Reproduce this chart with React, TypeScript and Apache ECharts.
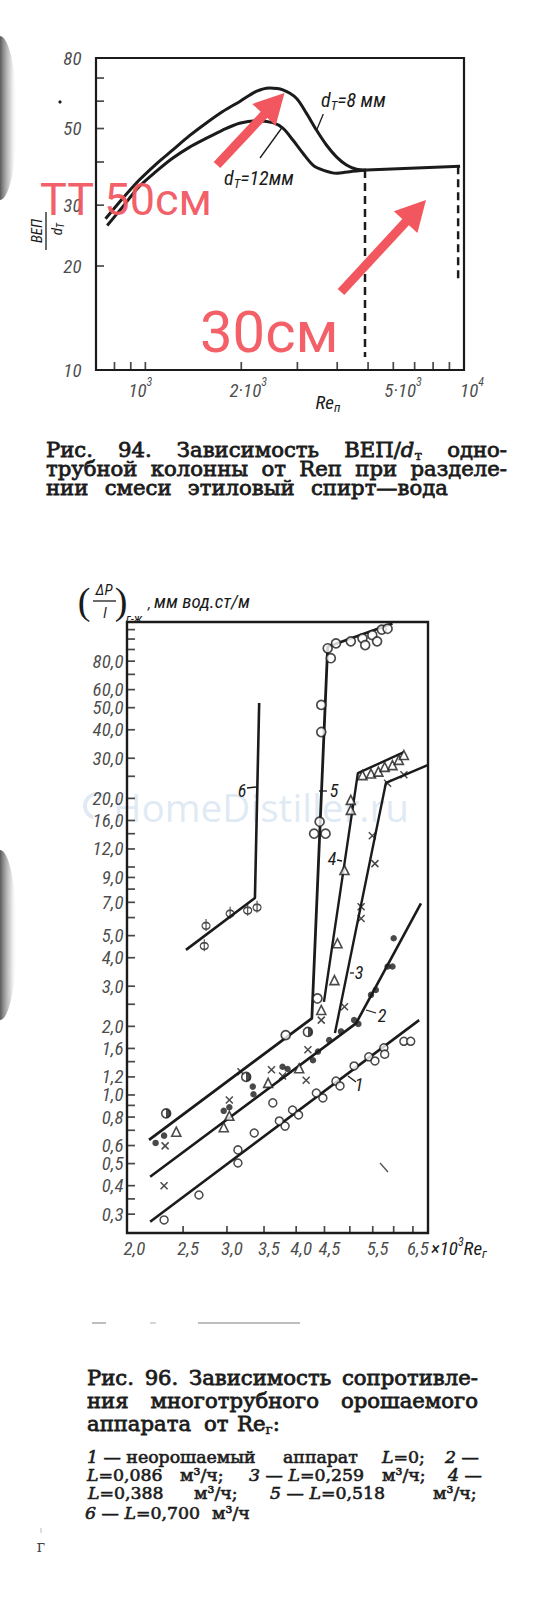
import React, { useEffect, useRef } from 'react';
import * as echarts from 'echarts';

// ---------------- Fig. 94 : ВЕП/dт vs Reп ----------------
const d8Re = [750, 847, 955, 1079, 1217, 1373, 1550, 1749, 1974, 2228, 2453, 2701, 2978, 3201, 3443, 3700, 3978, 4277, 4599, 4945];
const d8Val = [27.4, 31.3, 35.4, 39.4, 43.3, 47.6, 51.8, 56.0, 59.8, 64.0, 65.5, 64.7, 61.2, 55.4, 49.5, 44.8, 41.4, 39.2, 38.1, 37.9];
const d12Re = [759, 847, 955, 1079, 1217, 1373, 1550, 1749, 1974, 2228, 2511, 2701, 2904, 3123, 3357, 3610, 3978, 4380, 4945];
const d12Val = [26.2, 29.6, 33.9, 37.5, 41.0, 44.1, 46.8, 49.5, 51.8, 52.7, 52.0, 50.1, 46.3, 42.4, 39.2, 37.9, 37.1, 37.5, 37.9];
const plateauRe = [4945, 9721];
const plateauVal = [37.9, 38.9];
const dashLeftRe = [4890, 4890];
const dashLeftVal = [37.9, 10.9];
const dashRightRe = [9585, 9585];
const dashRightVal = [38.9, 18.3];
const topYTickValues = [20, 30, 40, 50, 60, 70];
const topYLabelValues = [10, 20, 30, 50, 80];
const topXTickValues = [800, 900, 1000, 2000, 3000, 4000, 5000, 6000, 7000, 8000, 9000];
const topXLabelValues = [1000, 2000, 5000, 10000];
const topXLabelBase = ['10', '2·10', '5·10', '10'];
const topXLabelExp = ['3', '3', '3', '4'];

// ---------------- Fig. 96 : (ΔP/l) vs Reг ----------------
const curve1 = [[2.18, 0.278], [6.67, 2.13]];
const curve2 = [[2.18, 0.438], [5.13, 2.06], [6.72, 6.93]];
const curve3 = [[4.70, 1.87], [5.81, 23.4], [6.91, 28.0]];
const curve4 = [[4.49, 2.56], [5.17, 25.8], [6.26, 31.9]];
const curve5 = [[2.17, 0.635], [4.27, 2.17], [4.56, 92.5], [5.97, 117]];
const curve6 = [[2.53, 4.33], [3.37, 7.31], [3.43, 52.4]];

const pts1 = [[2.31, 0.283], [2.67, 0.364], [3.14, 0.574], [3.14, 0.503], [3.36, 0.681], [3.63, 0.923], [3.73, 0.769], [3.82, 0.73], [3.94, 0.859], [4.04, 0.817], [4.35, 1.02], [4.47, 0.97], [4.72, 1.15], [4.80, 1.095], [5.09, 1.34], [5.41, 1.47], [5.55, 1.41], [5.76, 1.61], [5.78, 1.51], [6.26, 1.72], [6.44, 1.72]];
const pts2 = [[2.23, 0.616], [2.31, 0.663], [2.96, 0.852], [3.03, 0.883], [3.34, 1.088], [3.35, 1.007], [3.78, 1.33], [3.86, 1.30], [4.29, 1.42], [4.38, 1.55], [4.59, 1.74], [4.82, 1.90], [5.09, 2.13], [5.18, 2.05], [5.46, 2.75], [5.57, 2.89], [5.85, 3.66], [5.97, 3.66], [6.00, 4.87]];
const pts3 = [[2.31, 0.40], [2.32, 0.598], [3.03, 0.95], [3.18, 1.265], [3.61, 1.29], [3.78, 1.21], [4.17, 1.16], [4.20, 1.58], [4.44, 2.13], [4.89, 2.44], [5.24, 5.95], [5.24, 6.70], [5.49, 13.7], [5.55, 10.35], [5.85, 23.3], [6.26, 25.4]];
const pts4 = [[2.43, 0.69], [2.96, 0.722], [3.03, 0.81], [3.56, 1.13], [4.05, 1.31], [4.44, 2.36], [4.69, 3.19], [4.75, 4.63], [4.89, 9.70], [5.02, 19.7], [5.02, 17.8], [5.27, 25.3], [5.46, 25.7], [5.63, 26.2], [5.78, 27.5], [5.97, 28.0], [6.13, 29.5], [6.26, 31.0]];
const pts5 = [[3.83, 1.83], [4.37, 2.65], [4.31, 14.0], [4.52, 14.0], [4.41, 15.8], [4.44, 39.1], [4.44, 51.4], [4.56, 91.1], [4.62, 82.4], [4.72, 95.7], [5.02, 97.7], [5.27, 100.7], [5.33, 94.1], [5.49, 104], [5.60, 97.7], [5.71, 110], [5.85, 111]];
const ptsHalf = [[2.33, 0.83], [3.25, 1.20], [4.20, 1.89]];
const pts6 = [[2.73, 4.54], [2.75, 5.57], [3.04, 6.30], [3.27, 6.5], [3.40, 6.7]];

const bottomYTickValues = [0.3, 0.35, 0.4, 0.5, 0.6, 0.7, 0.8, 0.9, 1, 1.2, 1.4, 1.6, 2, 2.5, 3, 4, 5, 6, 7, 8, 9, 10, 12, 14, 16, 20, 25, 30, 40, 50, 60, 70, 80, 90, 100, 110];
const bottomYLabelValues = [0.3, 0.4, 0.5, 0.6, 0.8, 1, 1.2, 1.6, 2, 3, 4, 5, 7, 9, 12, 16, 20, 30, 40, 50, 60, 80];
const bottomXTickValues = [2.5, 3, 3.5, 4, 4.5, 5, 5.5, 6, 6.5];
const bottomXLabelValues = [2, 2.5, 3, 3.5, 4, 4.5, 5.5, 6.5];

// ---------------- styling ----------------
const INK = '#1b1b1b';
const RED = '#f2575f';
const AXF = '"Liberation Sans Narrow", "Roboto Condensed", "DejaVu Sans Condensed", "Liberation Sans", sans-serif';
const SERIF = '"DejaVu Serif", "Liberation Serif", serif';

type Seg = [string, string];
type Styles = Record<string, any>;

function fontOf(st: any) {
  return `${st.fontStyle || 'normal'} ${st.fontWeight || 'normal'} ${st.fontSize}px ${st.fontFamily}`;
}
let _ctx: CanvasRenderingContext2D | null = null;
function measureSegs(segs: Seg[], styles: Styles) {
  if (!_ctx) _ctx = document.createElement('canvas').getContext('2d');
  let w = 0;
  for (const [t, k] of segs) {
    _ctx!.font = fontOf(styles[k]);
    w += _ctx!.measureText(t).width;
  }
  return w;
}
function richOf(segs: Seg[]) {
  return segs.map(([t, k]) => `{${k}|${t}}`).join('');
}
function richStyles(styles: Styles) {
  const r: Styles = {};
  Object.keys(styles).forEach((k) => (r[k] = { ...styles[k], fill: styles[k].fill || INK }));
  return r;
}
function textEl(x: number, y: number, segs: Seg[], styles: Styles, extra: any = {}) {
  return {
    type: 'text', x, y, silent: true, z: 20, rotation: extra.rotation || 0, scaleX: extra.scaleX || 1,
    style: { text: richOf(segs), rich: richStyles(styles), textAlign: extra.align || 'left', textVerticalAlign: 'middle', fill: INK },
  };
}
function justify(words: Seg[][], styles: Styles, left: number, right: number, y: number, scaleX = 1) {
  const ws = words.map((w) => measureSegs(w, styles) * scaleX);
  const total = ws.reduce((a, b) => a + b, 0);
  const gap = Math.max(6, (right - left - total) / (words.length - 1));
  let x = left;
  return words.map((w, i) => {
    const el = textEl(x, y, w, styles, { scaleX });
    x += ws[i] + gap;
    return el;
  });
}
function lineEl(x1: number, y1: number, x2: number, y2: number, w = 1.3, color = INK, z = 20) {
  return { type: 'line', silent: true, z, shape: { x1, y1, x2, y2 }, style: { stroke: color, lineWidth: w } };
}
function arrowEls(x1: number, y1: number, x2: number, y2: number) {
  const dx = x2 - x1, dy = y2 - y1, L = Math.hypot(dx, dy);
  const ux = dx / L, uy = dy / L, px = -uy, py = ux;
  const hl = 30, hw = 16;
  const bx = x2 - ux * hl, by = y2 - uy * hl;
  return [
    { type: 'line', silent: true, z: 60, shape: { x1, y1, x2: bx + ux * 3, y2: by + uy * 3 }, style: { stroke: RED, lineWidth: 9, lineCap: 'butt' } },
    { type: 'polygon', silent: true, z: 60, shape: { points: [[x2, y2], [bx + px * hw, by + py * hw], [bx - px * hw, by - py * hw]] }, style: { fill: RED } },
  ];
}

const CAP_SX = 1.06;
const LEG_SX = 1.02;
const capStyles: Styles = {
  n: { fontSize: 20, fontFamily: SERIF, lineHeight: 24, stroke: INK, lineWidth: 0.75 },
  i: { fontSize: 20, fontStyle: 'italic', fontFamily: SERIF, lineHeight: 24, stroke: INK, lineWidth: 0.75 },
  s: { fontSize: 13, fontFamily: SERIF, lineHeight: 17, verticalAlign: 'bottom', stroke: INK, lineWidth: 0.5 },
};
const legStyles: Styles = {
  n: { fontSize: 17, fontFamily: SERIF, stroke: INK, lineWidth: 0.6 },
  i: { fontSize: 17, fontStyle: 'italic', fontFamily: SERIF, stroke: INK, lineWidth: 0.6 },
};
const axStyles: Styles = {
  i: { fontSize: 19, fontStyle: 'italic', fontFamily: AXF, lineHeight: 24 },
  s: { fontSize: 13, fontStyle: 'italic', fontFamily: AXF, lineHeight: 16, verticalAlign: 'bottom' },
  p: { fontSize: 12, fontStyle: 'italic', fontFamily: AXF, lineHeight: 12, verticalAlign: 'top' },
  t: { fontSize: 15, fontStyle: 'italic', fontFamily: AXF },
};

function pairs(xs: number[], ys: number[]) {
  return xs.map((x, i) => [x, ys[i]]);
}

function buildOption() {
  const lineS = (gi: number, data: number[][], width: number, extra: any = {}) => ({
    type: 'line', xAxisIndex: gi, yAxisIndex: gi, data, symbol: 'none', silent: true, z: 2,
    lineStyle: { color: INK, width, ...(extra.lineStyle || {}) }, smooth: extra.smooth || false,
  });
  const ticksY = (gi: number, xAt: number, values: number[], len: number) => ({
    type: 'scatter', xAxisIndex: gi, yAxisIndex: gi, data: values.map((v) => [xAt, v]), symbol: 'rect',
    symbolSize: [len, 1.7], symbolOffset: [len / 2, 0], itemStyle: { color: INK }, clip: false, silent: true, z: 3,
  });
  const ticksX = (gi: number, yAt: number, values: number[], len: number) => ({
    type: 'scatter', xAxisIndex: gi, yAxisIndex: gi, data: values.map((v) => [v, yAt]), symbol: 'rect',
    symbolSize: [1.7, len], symbolOffset: [0, -len / 2], itemStyle: { color: INK }, clip: false, silent: true, z: 3,
  });
  const labelBase = { show: true, fontStyle: 'italic', fontFamily: AXF, color: INK };
  const topXShift = [-5, 7, 35, 8];
  const markers = (data: number[][], symbol: string, size: any, itemStyle: any) => ({
    type: 'scatter', xAxisIndex: 1, yAxisIndex: 1, data, symbol, symbolSize: size, itemStyle, silent: true, z: 5,
  });
  const halfFill = new echarts.graphic.LinearGradient(0, 0, 1, 0, [
    { offset: 0, color: '#fff' }, { offset: 0.5, color: '#fff' }, { offset: 0.5, color: INK }, { offset: 1, color: INK },
  ]);

  const series: any[] = [
    // top chart
    lineS(0, pairs(d8Re, d8Val), 3, { smooth: 0.3 }),
    lineS(0, pairs(d12Re, d12Val), 3, { smooth: 0.3 }),
    lineS(0, pairs(plateauRe, plateauVal), 3),
    lineS(0, pairs(dashLeftRe, dashLeftVal), 2.5, { lineStyle: { type: [8, 5] } }),
    lineS(0, pairs(dashRightRe, dashRightVal), 2.5, { lineStyle: { type: [8, 5] } }),
    ticksY(0, 700, topYTickValues, 8),
    ticksX(0, 10, topXTickValues, 8),
    {
      type: 'scatter', xAxisIndex: 0, yAxisIndex: 0, data: topYLabelValues.map((v) => [700, v]), symbolSize: 1,
      itemStyle: { color: 'transparent' }, clip: false, silent: true, z: 3,
      label: { ...labelBase, position: 'left', distance: 14, fontSize: 19, formatter: (p: any) => String(p.value[1]) },
    },
    {
      type: 'scatter', xAxisIndex: 0, yAxisIndex: 0, symbolSize: 1, itemStyle: { color: 'transparent' }, clip: false, silent: true, z: 3,
      data: topXLabelValues.map((v, i) => ({ value: [v, 10], label: { offset: [topXShift[i], 0] } })),
      label: {
        ...labelBase, position: 'bottom', distance: 5,
        formatter: (p: any) => `{m|${topXLabelBase[p.dataIndex]}}{p|${topXLabelExp[p.dataIndex]}}`,
        rich: {
          m: { fontSize: 19, fontStyle: 'italic', fontFamily: AXF, color: INK, lineHeight: 24, verticalAlign: 'bottom' },
          p: { fontSize: 12, fontStyle: 'italic', fontFamily: AXF, color: INK, lineHeight: 12, verticalAlign: 'top' },
        },
      },
    },
    // bottom chart curves
    lineS(1, curve1, 2.6),
    lineS(1, curve2, 2.6),
    lineS(1, curve3, 2.4),
    lineS(1, curve4, 2.4),
    lineS(1, curve5, 2.8),
    lineS(1, curve6, 2.6),
    markers(pts1, 'circle', 8, { color: '#fff', borderColor: INK, borderWidth: 1.5 }),
    markers(pts2, 'circle', 6.5, { color: INK }),
    markers(pts3, 'path://M0,0L10,10M10,0L0,10', 7, { color: 'transparent', borderColor: INK, borderWidth: 1.5 }),
    markers(pts4, 'triangle', 9, { color: '#fff', borderColor: INK, borderWidth: 1.6 }),
    markers(pts5, 'circle', 9, { color: '#fff', borderColor: INK, borderWidth: 1.7 }),
    markers(ptsHalf, 'circle', 9, { color: halfFill, borderColor: INK, borderWidth: 1.6 }),
    markers(pts6, 'path://M5,0L5,14M9,8A4,4,0,1,1,1,8A4,4,0,1,1,9,8Z', [8, 12], { color: 'transparent', borderColor: INK, borderWidth: 1.4 }),
    ticksY(1, 1.98, bottomYTickValues, 8),
    ticksX(1, 0.248, bottomXTickValues, 7),
    {
      type: 'scatter', xAxisIndex: 1, yAxisIndex: 1, data: bottomYLabelValues.map((v) => [1.98, v]), symbolSize: 1,
      itemStyle: { color: 'transparent' }, clip: false, silent: true, z: 3,
      label: { ...labelBase, position: 'left', distance: 3, fontSize: 19, formatter: (p: any) => p.value[1].toFixed(1).replace('.', ',') },
    },
    {
      type: 'scatter', xAxisIndex: 1, yAxisIndex: 1, data: bottomXLabelValues.map((v) => [v, 0.248]), symbolSize: 1,
      itemStyle: { color: 'transparent' }, clip: false, silent: true, z: 3,
      label: { ...labelBase, position: 'bottom', distance: 5, offset: [5, 0], fontSize: 19, formatter: (p: any) => p.value[0].toFixed(1).replace('.', ',') },
    },
  ];

  const hiddenAxis = { axisLine: { show: false }, axisTick: { show: false }, axisLabel: { show: false }, splitLine: { show: false } };

  // ---- graphic annotations ----
  const g: any[] = [];
  const shadow = (cy: number, ry: number) => ({
    type: 'ellipse', silent: true, z: -5, shape: { cx: 0, cy, rx: 17, ry },
    style: { fill: new echarts.graphic.LinearGradient(0, 0, 1, 0, [{ offset: 0, color: 'rgba(40,40,40,0.9)' }, { offset: 0.5, color: 'rgba(60,60,60,0.85)' }, { offset: 0.8, color: 'rgba(150,150,150,0.4)' }, { offset: 1, color: 'rgba(255,255,255,0)' }]) },
  });
  g.push(shadow(118, 82), shadow(935, 85));

  // top chart texts
  g.push({ type: 'text', x: 37, y: 231, rotation: Math.PI / 2, silent: true, z: 20, style: { text: 'ВЕП', fontSize: 15, fontStyle: 'italic', fontFamily: AXF, fill: INK, textAlign: 'center', textVerticalAlign: 'middle' } });
  g.push(lineEl(46, 212, 46, 250, 1.3));
  g.push(textEl(57, 229, [['d', 't'], ['T', 's']], { t: axStyles.t, s: { ...axStyles.s, fontSize: 10 } }, { align: 'center', rotation: Math.PI / 2 }));
  g.push(textEl(328, 402, [['Re', 'i'], ['п', 's']], axStyles, { align: 'center' }));
  g.push(textEl(321, 100, [['d', 'i'], ['T', 's'], ['=8 мм', 'i']], { ...axStyles, i: { ...axStyles.i, fontSize: 20 } }));
  g.push(textEl(224, 178, [['d', 'i'], ['T', 's'], ['=12мм', 'i']], { ...axStyles, i: { ...axStyles.i, fontSize: 20 } }));
  g.push(lineEl(316.7, 130, 323.3, 114, 1.3));
  g.push(lineEl(260, 158, 281.7, 128, 1.3));
  g.push({ type: 'circle', silent: true, z: 20, shape: { cx: 60, cy: 102, r: 1.6 }, style: { fill: INK } });

  // top caption
  const tc1: Seg[][] = [[['Рис.', 'n']], [['94.', 'n']], [['Зависимость', 'n']], [['ВЕП/', 'n'], ['d', 'i'], ['т', 's']], [['одно-', 'n']]];
  const tc2: Seg[][] = [[['трубной', 'n']], [['колонны', 'n']], [['от', 'n']], [['Reп', 'n']], [['при', 'n']], [['разделе-', 'n']]];
  const tc3: Seg[][] = [[['нии', 'n']], [['смеси', 'n']], [['этиловый', 'n']], [['спирт—вода', 'n']]];
  g.push(...justify(tc1, capStyles, 46, 507, 450, CAP_SX));
  g.push(...justify(tc2, capStyles, 46, 507, 469, CAP_SX));
  g.push(...justify(tc3, capStyles, 46, 448, 488, CAP_SX));

  // bottom chart y title
  const paren = (x: number, t: string) => ({ type: 'text', x, y: 601, silent: true, z: 20, style: { text: t, fontSize: 38, fontFamily: '"Liberation Serif", serif', fill: INK, textAlign: 'center', textVerticalAlign: 'middle' } });
  g.push(paren(84, '('), paren(121, ')'));
  g.push({ type: 'text', x: 104, y: 590, silent: true, z: 20, style: { text: 'ΔP', fontSize: 15, fontStyle: 'italic', fontFamily: AXF, fill: INK, textAlign: 'center', textVerticalAlign: 'middle' } });
  g.push(lineEl(93, 601, 116, 601, 1.3));
  g.push({ type: 'text', x: 105, y: 613, silent: true, z: 20, style: { text: 'l', fontSize: 15, fontStyle: 'italic', fontFamily: AXF, fill: INK, textAlign: 'center', textVerticalAlign: 'middle' } });
  g.push({ type: 'text', x: 126, y: 618, silent: true, z: 20, style: { text: 'г-ж', fontSize: 13, fontStyle: 'italic', fontFamily: AXF, fill: INK, textAlign: 'left', textVerticalAlign: 'middle' } });
  g.push({ type: 'text', x: 148, y: 604, silent: true, z: 20, style: { text: ',', fontSize: 15, fontStyle: 'italic', fontFamily: AXF, fill: INK, textAlign: 'left', textVerticalAlign: 'middle' } });
  g.push({ type: 'text', x: 154, y: 601, silent: true, z: 20, style: { text: 'мм вод.ст/м', fontSize: 19, fontStyle: 'italic', fontFamily: AXF, fill: INK, textAlign: 'left', textVerticalAlign: 'middle' } });

  // x title suffix
  g.push(textEl(431, 1248, [['×10', 'i'], ['3', 'p'], ['Re', 'i'], ['г', 's']], axStyles));

  // curve number labels
  const num = (x: number, y: number, t: string) => ({ type: 'text', x, y, silent: true, z: 20, style: { text: t, fontSize: 18, fontStyle: 'italic', fontFamily: AXF, fill: INK, textAlign: 'center', textVerticalAlign: 'middle' } });
  g.push(num(242, 790, '6'), lineEl(247, 788, 256, 787, 1.3));
  g.push(num(334, 790, '5'), lineEl(319, 791, 327, 791, 1.3));
  g.push(num(332, 858, '4'), lineEl(337, 860, 342, 861, 1.3));
  g.push(num(359, 972, '3'), lineEl(350, 973, 354, 973, 1.3));
  g.push(num(382, 1015, '2'), lineEl(366, 1010, 376, 1013, 1.3));
  g.push(num(359, 1084, '1'), lineEl(348, 1076, 356, 1082, 1.3));
  g.push(lineEl(380, 1163, 388, 1172, 1.4, '#555'));

  // watermark
  {
    let fs = 30;
    const w = measureSegs([['HomeDistiller.ru', 'w']], { w: { fontSize: 30, fontFamily: '"Open Sans", sans-serif' } });
    if (w > 0) fs = (30 * 296) / w;
    g.push({ type: 'text', x: 113, y: 807, silent: true, z: -2, style: { text: 'HomeDistiller.ru', fontSize: fs, fontFamily: '"Open Sans", sans-serif', fill: 'rgba(180,204,230,0.42)', textAlign: 'left', textVerticalAlign: 'middle' } });
    g.push({ type: 'arc', silent: true, z: -2, shape: { cx: 97, cy: 806, r: 12, startAngle: Math.PI * 0.6, endAngle: Math.PI * 1.7 }, style: { stroke: 'rgba(180,204,230,0.42)', lineWidth: 4, fill: 'none' } });
  }

  // scan fragments below chart
  g.push(lineEl(92, 1323, 106, 1323, 1.5, '#a8a8a8'));
  g.push(lineEl(150, 1323, 156, 1323, 1.5, '#c8c8c8'));
  g.push(lineEl(198, 1323, 300, 1323, 1.5, '#a8a8a8'));

  // bottom caption
  const bc1: Seg[][] = [[['Рис.', 'n']], [['96.', 'n']], [['Зависимость', 'n']], [['сопротивле-', 'n']]];
  const bc2: Seg[][] = [[['ния', 'n']], [['многотрубного', 'n']], [['орошаемого', 'n']]];
  g.push(...justify(bc1, capStyles, 87, 478, 1378, CAP_SX));
  g.push(...justify(bc2, capStyles, 87, 478, 1401, CAP_SX));
  g.push(textEl(87, 1424, [['аппарата', 'n']], capStyles, { scaleX: CAP_SX }));
  g.push(textEl(204, 1424, [['от', 'n']], capStyles, { scaleX: CAP_SX }));
  g.push(textEl(237, 1424, [['Re', 'n'], ['г', 's'], [':', 'n']], capStyles, { scaleX: CAP_SX }));

  const leg: [number, number, Seg[]][] = [
    [87, 1457, [['1', 'i'], [' — неорошаемый', 'n']]],
    [283, 1457, [['аппарат', 'n']]],
    [382, 1457, [['L', 'i'], ['=0;', 'n']]],
    [445, 1457, [['2', 'i'], [' —', 'n']]],
    [87, 1475, [['L', 'i'], ['=0,086', 'n']]],
    [180, 1475, [['м³/ч;', 'n']]],
    [249, 1475, [['3', 'i'], [' — ', 'n'], ['L', 'i'], ['=0,259', 'n']]],
    [382, 1475, [['м³/ч;', 'n']]],
    [448, 1475, [['4', 'i'], [' —', 'n']]],
    [88, 1493, [['L', 'i'], ['=0,388', 'n']]],
    [194, 1493, [['м³/ч;', 'n']]],
    [270, 1493, [['5', 'i'], [' — ', 'n'], ['L', 'i'], ['=0,518', 'n']]],
    [433, 1493, [['м³/ч;', 'n']]],
    [85, 1513, [['6', 'i'], [' — ', 'n'], ['L', 'i'], ['=0,700', 'n']]],
    [212, 1513, [['м³/ч', 'n']]],
  ];
  leg.forEach(([x, y, segs]) => g.push(textEl(x, y, segs, legStyles, { scaleX: LEG_SX })));
  g.push({ type: 'text', x: 41, y: 1546, silent: true, z: 20, style: { text: 'г', fontSize: 16, fontFamily: SERIF, fill: '#444', textAlign: 'center', textVerticalAlign: 'middle' } });
  g.push(lineEl(41, 1528, 41, 1533, 1, '#bbb'));

  // red annotations (overlay)
  const redText = (x: number, y: number, t: string, fs: number) => ({ type: 'text', x, y, silent: true, z: 60, style: { text: t, fontSize: fs, fontFamily: 'Roboto, "Liberation Sans", sans-serif', fill: RED, opacity: 0.95, textAlign: 'left', textVerticalAlign: 'bottom' } });
  g.push(...arrowEls(217, 165, 284.5, 93));
  g.push(...arrowEls(341, 292, 426, 200));
  g.push(redText(40, 222, 'TT 50см', 45));
  g.push(redText(200, 361, '30см', 58));

  return {
    animation: false,
    backgroundColor: '#fff',
    grid: [
      { left: 96, top: 58, width: 368, height: 312, show: true, borderColor: INK, borderWidth: 2.2, backgroundColor: 'transparent' },
      { left: 127, top: 622, width: 301, height: 611, show: true, borderColor: INK, borderWidth: 2.4, backgroundColor: 'transparent' },
    ],
    xAxis: [
      { type: 'log', logBase: 10, gridIndex: 0, min: 700, max: 10000, ...hiddenAxis },
      { type: 'log', logBase: 10, gridIndex: 1, min: 1.98, max: 6.92, ...hiddenAxis },
    ],
    yAxis: [
      { type: 'log', logBase: 10, gridIndex: 0, min: 10, max: 80, ...hiddenAxis },
      { type: 'log', logBase: 10, gridIndex: 1, min: 0.248, max: 118.8, ...hiddenAxis },
    ],
    series,
    graphic: { elements: g },
  };
}

export default function App() {
  const ref = useRef<HTMLDivElement>(null);
  useEffect(() => {
    if (!ref.current) return;
    const chart = echarts.init(ref.current, undefined, { renderer: 'svg' });
    chart.setOption(buildOption() as any);
    return () => chart.dispose();
  }, []);
  return <div ref={ref} style={{ position: 'absolute', left: 0, top: 0, width: 550, height: 1600, background: '#fff' }} />;
}
